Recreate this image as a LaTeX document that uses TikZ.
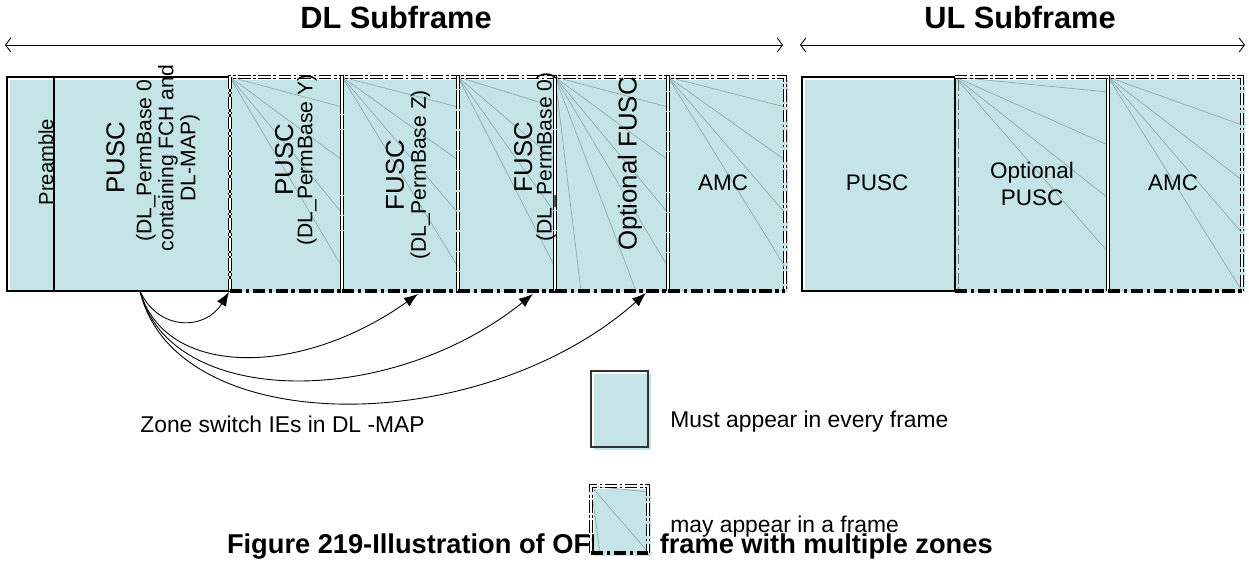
\documentclass[tikz,border=0pt]{standalone}
\usepackage{fontspec}
\setmainfont{Liberation Sans}
\usetikzlibrary{arrows.meta}
\definecolor{zonefill}{RGB}{197,228,231}
\definecolor{fangray}{RGB}{140,165,168}
\begin{document}
\begin{tikzpicture}[x=0.02cm,y=-0.02cm,
  lab/.style={font=\fontsize{12.8}{15}\selectfont, align=center, inner sep=0pt},
  rlab/.style={rotate=90, align=center, inner sep=0pt, font=\fontsize{12}{12.5}\selectfont},
  legtext/.style={font=\fontsize{13}{15}\selectfont, anchor=west, inner sep=0pt},
  fan/.style={draw=fangray, line width=0.35pt},
  solidedge/.style={draw=black, line width=0.6pt},
  zedge/.style={line width=0.6pt, double=white, double distance=1.3pt, dash pattern=on 7pt off 1.5pt on 1.5pt off 1.5pt},
  zbottom/.style={line width=2pt, dash pattern=on 7pt off 2pt on 2pt off 2pt},
  zarrow/.style={-{Latex[length=8pt,width=6pt]}, line width=0.5pt},
  spanarrow/.style={{Straight Barb[length=3pt,width=8pt]}-{Straight Barb[length=3pt,width=8pt]}, line width=0.5pt},
  heading/.style={font=\fontsize{17.5}{20}\selectfont\bfseries, inner sep=0pt}
]
\useasboundingbox (0,0) rectangle (1249,563);

% headings and span arrows
\node[heading] (dltitle) at (396,18) {DL Subframe};
\node[heading] (ultitle) at (1020,18) {UL Subframe};
\coordinate (dlL) at (5,45); \coordinate (dlR) at (783,45);
\coordinate (ulL) at (800,45); \coordinate (ulR) at (1245,45);
\draw[spanarrow] (dlL) -- (dlR);
\draw[spanarrow] (ulL) -- (ulR);

% fills (slightly offset, as a shadow)
\fill[zonefill] (10,80) rectangle (788,292);
\fill[zonefill] (805,80) rectangle (1245,292);

% fan lines in the optional zones
\foreach \a/\b in {230/342, 342/458, 458/555, 555/668, 668/785}{
  \foreach \y in {107,160,213,267}{\draw[fan] (\a,77) -- (\b,\y);}
}
\draw[fan] (555,77) -- (581,291);
\draw[fan] (555,77) -- (636,291);
\foreach \y in {92,145,198,252}{\draw[fan] (955,77) -- (1108,\y);}
\foreach \y in {125,180,233,291}{\draw[fan] (1108,77) -- (1242,\y);}

% solid boxes
\draw[solidedge] (7,77) rectangle (230,291);
\draw[solidedge] (54,77) -- (54,291);
\draw[solidedge] (802,77) rectangle (955,291);

% dashed (optional) boxes
\foreach \a/\b in {230/342, 342/458, 458/555, 555/668, 668/785, 1108/1242}{
  \draw[zedge] (\a,291) -- (\a,77) -- (\b,77) -- (\b,291);
  \draw[zbottom] (\a,291) -- (\b,291);
}
\draw[zedge] (955,77) -- (1108,77) -- (1108,291);
\draw[zbottom] (955,291) -- (1108,291);
\draw[draw=fangray!70!black, line width=0.4pt, dash pattern=on 6pt off 2pt on 1pt off 2pt] (958,80) -- (958,289);

% zone labels
\node[rlab, font=\fontsize{11.5}{12}\selectfont] (pre) at (46,162) {Preamble};
\node[rlab] (pusc0) at (153,158) {{\fontsize{14.7}{12.5}\selectfont PUSC}\\[3pt](DL\_PermBase 0,\\containing FCH and\\DL-MAP)};
\node[rlab] (puscy) at (296,160) {{\fontsize{14.7}{12.5}\selectfont PUSC}\\[-1.5pt](DL\_PermBase Y)};
\node[rlab] (fuscz) at (408,175) {{\fontsize{14.7}{12.5}\selectfont FUSC}\\[0pt](DL\_PermBase Z)};
\node[rlab] (fusc0) at (535,157) {{\fontsize{14.7}{12.5}\selectfont FUSC}\\[-1.5pt](DL\_PermBase 0)};
\node[rlab, font=\fontsize{14.7}{15}\selectfont] (optfusc) at (630,164) {Optional FUSC};
\node[lab] (amcdl) at (723,183) {AMC};
\node[lab] (puscul) at (877,183) {PUSC};
\node[lab] (optpusc) at (1032,184) {Optional\\PUSC};
\node[lab] (amcul) at (1173,183) {AMC};

% zone switch arrows
\coordinate (src) at (140,291);
\coordinate (t1) at (229,292);
\coordinate (t2) at (418,294);
\coordinate (t3) at (533,294);
\coordinate (t4) at (646,293);
\draw[zarrow] (src) .. controls (158,331) and (205,331) .. (t1);
\draw[zarrow] (src) .. controls (165,378) and (300,378) .. (t2);
\draw[zarrow] (src) .. controls (170,409) and (390,409) .. (t3);
\draw[zarrow] (src) .. controls (175,440) and (480,440) .. (t4);
\node[legtext] (zlabel) at (140,424) {Zone switch IEs in DL -MAP};

% figure caption
\node[font=\fontsize{15.5}{18}\selectfont\bfseries, inner sep=0pt, anchor=east] (caption) at (993,547) {Figure 219-Illustration of OFDMA frame with multiple zones};

% legend
\fill[zonefill] (594,374) rectangle (651,450);
\draw[solidedge, draw=black!80] (591,371) rectangle (648,447);
\node[legtext] (legmust) at (670,422) {Must appear in every frame};

\fill[zonefill] (594,489) rectangle (651,556);
\draw[fan] (591,486) -- (648,492);
\draw[fan] (591,486) -- (648,552);
\draw[fan] (591,486) -- (600,553);
\draw[zedge] (591,553) -- (591,486) -- (648,486) -- (648,553);
\draw[zbottom] (591,553) -- (648,553);
\node[legtext] (legmay) at (670,527) {may appear in a frame};
\end{tikzpicture}
\end{document}
